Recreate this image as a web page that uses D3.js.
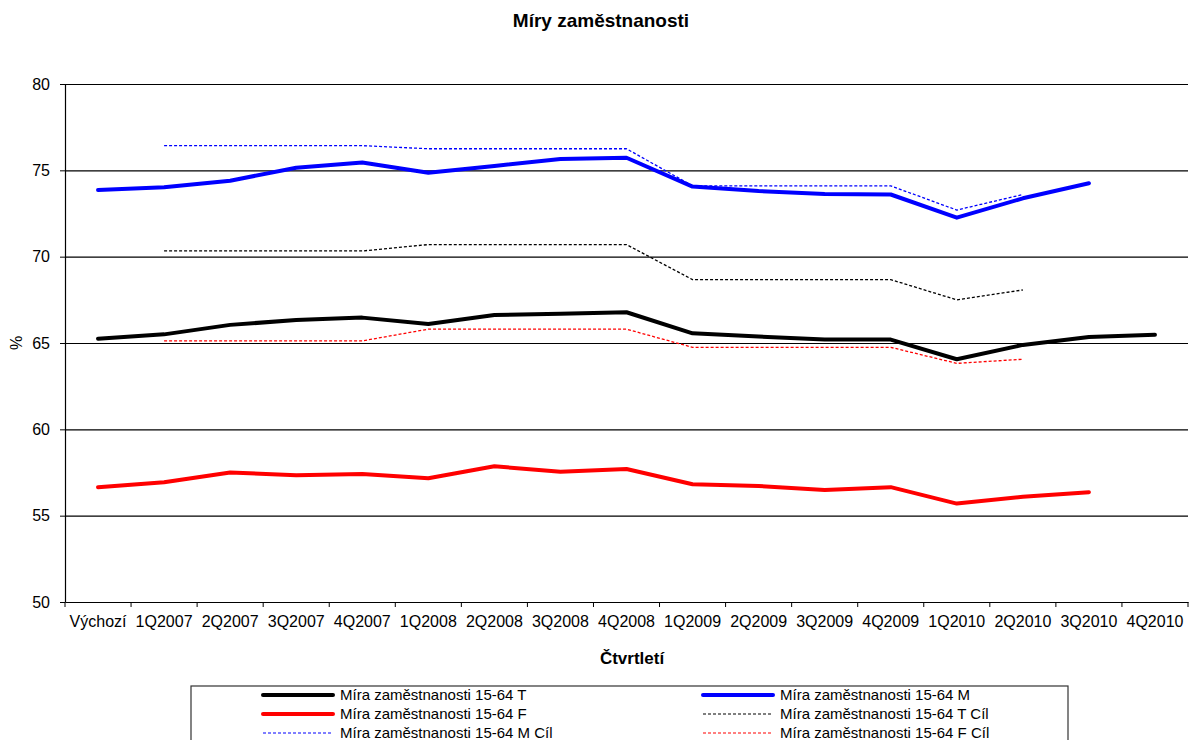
<!DOCTYPE html>
<html>
<head>
<meta charset="utf-8">
<script src="https://cdn.jsdelivr.net/npm/d3@7"></script>
<style>
  body { margin: 0; background: #fff; }
  svg { display: block; font-family: "Liberation Sans", Arial, sans-serif; }
</style>
</head>
<body>
<svg id="chart" width="1190" height="740"></svg>
<script>
// categories (quarters)
var quarters = ["Výchozí", "1Q2007", "2Q2007", "3Q2007", "4Q2007", "1Q2008", "2Q2008",
  "3Q2008", "4Q2008", "1Q2009", "2Q2009", "3Q2009", "4Q2009", "1Q2010", "2Q2010",
  "3Q2010", "4Q2010"];

// values, null = no value
var rateT = [65.25, 65.5, 66.05, 66.33, 66.47, 66.1, 66.62, 66.7, 66.78, 65.56, 65.37,
  65.2, 65.2, 64.06, 64.89, 65.35, 65.48];
var rateM = [73.86, 74.02, 74.4, 75.15, 75.45, 74.86, 75.25, 75.66, 75.73, 74.06, 73.8,
  73.63, 73.6, 72.26, 73.38, 74.25, null];
var rateF = [56.65, 56.94, 57.5, 57.34, 57.42, 57.17, 57.86, 57.55, 57.7, 56.82, 56.72,
  56.49, 56.65, 55.7, 56.1, 56.36, null];
var targetT = [null, 70.33, 70.33, 70.33, 70.33, 70.7, 70.7, 70.7, 70.7, 68.67, 68.67,
  68.67, 68.67, 67.5, 68.07, null, null];
var targetM = [null, 76.43, 76.43, 76.43, 76.43, 76.25, 76.25, 76.25, 76.25, 74.1, 74.1,
  74.1, 74.1, 72.7, 73.6, null, null];
var targetF = [null, 65.12, 65.12, 65.12, 65.12, 65.8, 65.8, 65.8, 65.8, 64.75, 64.75,
  64.75, 64.75, 63.82, 64.06, null, null];

var yTicks = [50, 55, 60, 65, 70, 75, 80];
var gridTicks = [55, 60, 65, 70, 75, 80];

var series = [
  {name: "Míra zaměstnanosti 15-64 T", values: rateT, color: "#000000", dashed: false},
  {name: "Míra zaměstnanosti 15-64 M", values: rateM, color: "#0000ff", dashed: false},
  {name: "Míra zaměstnanosti 15-64 F", values: rateF, color: "#ff0000", dashed: false},
  {name: "Míra zaměstnanosti 15-64 T Cíl", values: targetT, color: "#000000", dashed: true},
  {name: "Míra zaměstnanosti 15-64 M Cíl", values: targetM, color: "#0000ff", dashed: true},
  {name: "Míra zaměstnanosti 15-64 F Cíl", values: targetF, color: "#ff0000", dashed: true}
];

var plotLeft = 65, plotRight = 1188, plotTop = 84, plotBottom = 602;

var svg = d3.select("#chart");

var x = d3.scaleBand().domain(quarters).range([plotLeft, plotRight]);
var y = d3.scaleLinear().domain([50, 80]).range([plotBottom, plotTop]);

// title
svg.append("text")
  .attr("x", 601).attr("y", 27)
  .attr("text-anchor", "middle")
  .style("font-size", "19px").style("font-weight", "bold")
  .text("Míry zaměstnanosti");

// gridlines
svg.append("g")
  .attr("transform", "translate(" + plotLeft + ",0)")
  .call(d3.axisLeft(y).tickValues(gridTicks).tickSize(-(plotRight - plotLeft)).tickFormat(""))
  .call(function(g) {
    g.select(".domain").remove();
    g.selectAll("line").attr("stroke", "#000").attr("stroke-width", 1.2);
  });

// y axis
svg.append("g")
  .attr("transform", "translate(" + plotLeft + ",0)")
  .call(d3.axisLeft(y).tickValues(yTicks).tickSize(5).tickPadding(10).tickSizeOuter(0))
  .call(function(g) {
    g.select(".domain").attr("stroke", "#000").attr("stroke-width", 1.2);
    g.selectAll("line").attr("stroke", "#000");
    g.selectAll("text").style("font-size", "16px").attr("fill", "#000");
  });

// x axis (labels centred in categories, ticks at boundaries)
svg.append("g")
  .attr("transform", "translate(0," + plotBottom + ")")
  .call(d3.axisBottom(x).tickSize(0).tickPadding(23).tickSizeOuter(0))
  .call(function(g) {
    g.select(".domain").attr("stroke", "#000").attr("stroke-width", 1.2);
    g.selectAll("text").style("font-size", "16px").attr("fill", "#000").attr("dy", "0.1em");
  });

var bounds = quarters.map(function(q) { return x(q); }).concat([plotRight]);
svg.append("g").selectAll("line")
  .data(bounds).enter().append("line")
  .attr("x1", function(d) { return d; }).attr("x2", function(d) { return d; })
  .attr("y1", plotBottom).attr("y2", plotBottom + 5)
  .attr("stroke", "#000");

// axis titles
svg.append("text")
  .attr("x", 632).attr("y", 664)
  .attr("text-anchor", "middle")
  .style("font-size", "17px").style("font-weight", "bold")
  .text("Čtvrtletí");

svg.append("text")
  .attr("transform", "translate(22,343) rotate(-90)")
  .attr("text-anchor", "middle")
  .style("font-size", "16px")
  .text("%");

// lines
var line = d3.line()
  .defined(function(d) { return d !== null; })
  .x(function(d, i) { return x(quarters[i]) + x.bandwidth() / 2; })
  .y(function(d) { return y(d); });

var drawOrder = [3, 4, 5, 0, 1, 2];
drawOrder.forEach(function(k) {
  var s = series[k];
  svg.append("path")
    .datum(s.values)
    .attr("d", line)
    .attr("fill", "none")
    .attr("stroke", s.color)
    .attr("stroke-width", s.dashed ? 1.3 : 4)
    .attr("stroke-dasharray", s.dashed ? "3,2" : null)
    .attr("stroke-linejoin", "round")
    .attr("stroke-linecap", s.dashed ? "butt" : "round");
});

// legend
var legend = svg.append("g");
legend.append("rect")
  .attr("x", 191).attr("y", 686)
  .attr("width", 877).attr("height", 70)
  .attr("fill", "#fff").attr("stroke", "#333").attr("stroke-width", 1.2);

var legendCols = [263, 703];
var legendRows = [695, 714, 733];
series.forEach(function(s, i) {
  var cx = legendCols[i % 2], cy = legendRows[Math.floor(i / 2)];
  var item = legend.append("g");
  item.append("line")
    .attr("x1", cx).attr("x2", cx + 70)
    .attr("y1", cy).attr("y2", cy)
    .attr("stroke", s.color)
    .attr("stroke-width", s.dashed ? 1.2 : 4)
    .attr("stroke-dasharray", s.dashed ? "3,2" : null)
    .attr("stroke-linecap", s.dashed ? "butt" : "round");
  item.append("text")
    .attr("x", cx + 77).attr("y", cy)
    .attr("dy", "0.35em")
    .style("font-size", "15px")
    .text(s.name);
});
</script>
</body>
</html>
